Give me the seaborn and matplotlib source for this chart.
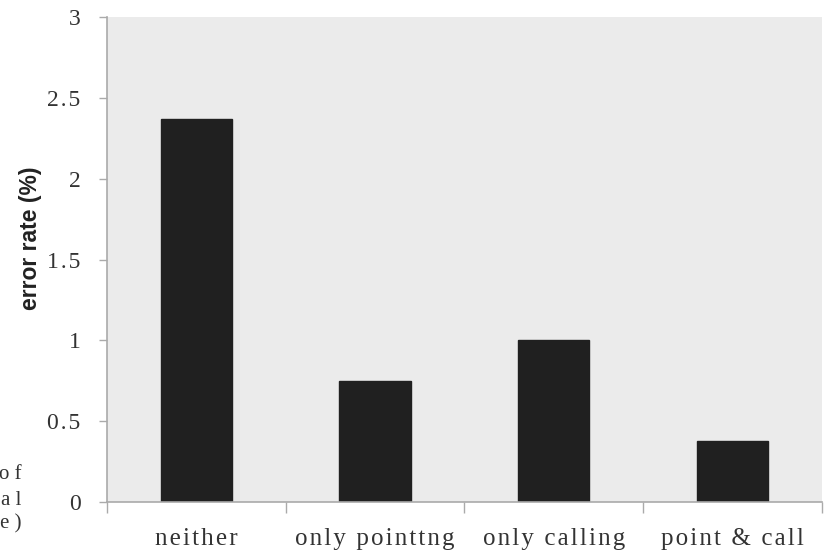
import numpy as np
import pandas as pd
import seaborn as sns
import matplotlib.pyplot as plt
from matplotlib.ticker import FixedLocator

conditions = ['neither', 'only pointtng', 'only calling', 'point & call']
error_rate = [2.37, 0.75, 1.0, 0.375]
y_ticks = [0, 0.5, 1, 1.5, 2, 2.5, 3]
y_tick_labels = ['0', '0.5', '1', '1.5', '2', '2.5', '3']


def spaced(s):
    # the original labels are set with loose letter spacing
    return '\u200a'.join(s)


sns.set_style('white', {'axes.facecolor': '#ebebeb'})
serif = ['Liberation Serif', 'DejaVu Serif']

df = pd.DataFrame({'condition': conditions, 'error_rate': error_rate})

fig = plt.figure(figsize=(8.3, 5.54), dpi=100)
ax = fig.add_axes([0.129, 0.094, 0.861, 0.875])

sns.barplot(data=df, x='condition', y='error_rate', color='#202020',
            width=0.4, saturation=1, edgecolor='#202020', ax=ax)

ax.set_xlim(-0.5, 3.5)
ax.set_ylim(0, 3)
ax.set_yticks(y_ticks)
ax.set_yticklabels([spaced(t) for t in y_tick_labels], family=serif,
                   fontsize=17, color='#333333')
ax.set_xticks(range(len(conditions)))
ax.set_xticklabels([spaced(c) for c in conditions], family=serif,
                   fontsize=18, color='#333333')
ax.xaxis.set_minor_locator(FixedLocator(np.arange(-0.5, 4, 1)))
ax.tick_params(axis='x', which='major', bottom=True, length=0, pad=18.5)
ax.tick_params(axis='x', which='minor', bottom=True, length=8,
               color='#aaaaaa', width=1)
ax.tick_params(axis='y', left=True, length=6, color='#aaaaaa', width=1,
               pad=13)

ax.set_xlabel('')
ax.set_ylabel('error rate (%)', family='Liberation Sans', fontweight='bold',
              fontsize=16.5, color='#222222')
ax.yaxis.set_label_coords(-0.091, 0.544)

for s in ['top', 'right']:
    ax.spines[s].set_visible(False)
for s in ['left', 'bottom']:
    ax.spines[s].set_color('#aaaaaa')
    ax.spines[s].set_linewidth(1.2)

# cropped caption fragments at left edge
for txt, yy in [('o f', 0.143), ('a l', 0.097), ('e )', 0.055)]:
    fig.text(0.026, yy, txt, ha='right', va='center', family=serif,
             fontsize=15, color='#333333')

fig.savefig('out.png', dpi=100)
